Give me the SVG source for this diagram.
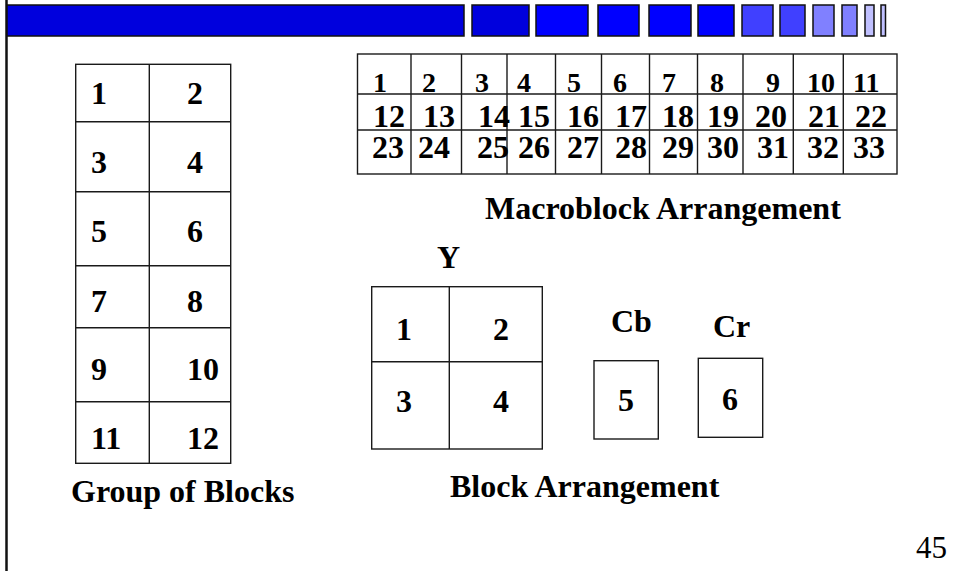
<svg xmlns="http://www.w3.org/2000/svg" width="957" height="571" viewBox="0 0 957 571">
<style>
.t{font-family:"Liberation Serif","Times New Roman",serif;font-weight:bold;font-size:32px;fill:#000}
.s{font-family:"Liberation Serif","Times New Roman",serif;font-weight:bold;font-size:28px;fill:#000}
.n{font-family:"Liberation Serif","Times New Roman",serif;font-size:31px;fill:#000}
.ln{stroke:#1a1a1a;stroke-width:1.4;fill:none}
.bar{stroke:#111;stroke-width:1.5}
</style>
<rect width="957" height="571" fill="#fff"/>
<g id="header">
<line x1="6.5" y1="0" x2="6.5" y2="571" stroke="#111" stroke-width="2.5"/>
<rect class="bar" x="7" y="5" width="457" height="31" fill="#0000dd"/>
<rect class="bar" x="472" y="5" width="57" height="31" fill="#0000dd"/>
<rect class="bar" x="536" y="5" width="52" height="31" fill="#0000ff"/>
<rect class="bar" x="598" y="5" width="41" height="31" fill="#0000ff"/>
<rect class="bar" x="649" y="5" width="42" height="31" fill="#0000ff"/>
<rect class="bar" x="698" y="5" width="36" height="31" fill="#0000ff"/>
<rect class="bar" x="742" y="5" width="31" height="31" fill="#4040ff"/>
<rect class="bar" x="780" y="5" width="25" height="31" fill="#4040ff"/>
<rect class="bar" x="813" y="5" width="21" height="31" fill="#8080ff"/>
<rect class="bar" x="842" y="5" width="15" height="31" fill="#8080ff"/>
<rect class="bar" x="865" y="5" width="9" height="31" fill="#c0c0ff"/>
<rect class="bar" x="881" y="5" width="4.5" height="31" fill="#c0c0ff"/>
</g>
<g id="group-of-blocks">
<rect class="ln" x="75.7" y="64.3" width="155" height="399"/>
<line class="ln" x1="149.3" y1="64.3" x2="149.3" y2="463.3"/>
<line class="ln" x1="75.7" y1="121.7" x2="230.7" y2="121.7"/>
<line class="ln" x1="75.7" y1="191.7" x2="230.7" y2="191.7"/>
<line class="ln" x1="75.7" y1="265.7" x2="230.7" y2="265.7"/>
<line class="ln" x1="75.7" y1="327.7" x2="230.7" y2="327.7"/>
<line class="ln" x1="75.7" y1="401.7" x2="230.7" y2="401.7"/>
<text class="t" x="91" y="104">1</text><text class="t" x="187" y="104">2</text>
<text class="t" x="91" y="173">3</text><text class="t" x="187" y="173">4</text>
<text class="t" x="91" y="242">5</text><text class="t" x="187" y="242">6</text>
<text class="t" x="91" y="312">7</text><text class="t" x="187" y="312">8</text>
<text class="t" x="91" y="380">9</text><text class="t" x="187" y="380">10</text>
<text class="t" x="91" y="449">11</text><text class="t" x="187" y="449">12</text>
<text class="t" x="71" y="502">Group of Blocks</text>
</g>
<g id="macroblock-arrangement">
<rect class="ln" x="357.5" y="54" width="539.5" height="120"/>
<line class="ln" x1="357.5" y1="94" x2="897" y2="94"/>
<line class="ln" x1="357.5" y1="130" x2="897" y2="130"/>
<line class="ln" x1="411" y1="54" x2="411" y2="174"/>
<line class="ln" x1="461.5" y1="54" x2="461.5" y2="174"/>
<line class="ln" x1="507" y1="54" x2="507" y2="174"/>
<line class="ln" x1="555.5" y1="54" x2="555.5" y2="174"/>
<line class="ln" x1="601.5" y1="54" x2="601.5" y2="174"/>
<line class="ln" x1="649.5" y1="54" x2="649.5" y2="174"/>
<line class="ln" x1="697.5" y1="54" x2="697.5" y2="174"/>
<line class="ln" x1="743" y1="54" x2="743" y2="174"/>
<line class="ln" x1="793.3" y1="54" x2="793.3" y2="174"/>
<line class="ln" x1="843.3" y1="54" x2="843.3" y2="174"/>
<text class="s" x="373" y="92">1</text><text class="s" x="422" y="92">2</text><text class="s" x="475" y="92">3</text><text class="s" x="517" y="92">4</text><text class="s" x="567" y="92">5</text><text class="s" x="613" y="92">6</text><text class="s" x="662" y="92">7</text><text class="s" x="710" y="92">8</text><text class="s" x="766" y="92">9</text><text class="s" x="807" y="92">10</text><text class="s" x="853" y="92">11</text>
<text class="t" x="373" y="127">12</text><text class="t" x="423" y="127">13</text><text class="t" x="478" y="127">14</text><text class="t" x="518" y="127">15</text><text class="t" x="567" y="127">16</text><text class="t" x="615" y="127">17</text><text class="t" x="662" y="127">18</text><text class="t" x="707" y="127">19</text><text class="t" x="755" y="127">20</text><text class="t" x="808" y="127">21</text><text class="t" x="855" y="127">22</text>
<text class="t" x="372" y="158">23</text><text class="t" x="418" y="158">24</text><text class="t" x="477" y="158">25</text><text class="t" x="518" y="158">26</text><text class="t" x="567" y="158">27</text><text class="t" x="615" y="158">28</text><text class="t" x="662" y="158">29</text><text class="t" x="707" y="158">30</text><text class="t" x="757" y="158">31</text><text class="t" x="807" y="158">32</text><text class="t" x="853" y="158">33</text>
<text class="t" x="485" y="219">Macroblock Arrangement</text>
</g>
<g id="block-y">
<text class="t" x="437" y="268">Y</text>
<rect class="ln" x="371.7" y="286.7" width="170.6" height="162.3"/>
<line class="ln" x1="449.3" y1="286.7" x2="449.3" y2="449"/>
<line class="ln" x1="371.7" y1="361.7" x2="542.3" y2="361.7"/>
<text class="t" x="396" y="340">1</text><text class="t" x="493" y="340">2</text>
<text class="t" x="396" y="412">3</text><text class="t" x="493" y="412">4</text>
</g>
<g id="block-cb">
<text class="t" x="611" y="332">Cb</text>
<rect class="ln" x="594" y="360.7" width="64.3" height="78.3"/>
<text class="t" x="618" y="411">5</text>
</g>
<g id="block-cr">
<text class="t" x="713" y="337">Cr</text>
<rect class="ln" x="698.3" y="358.3" width="64.4" height="79"/>
<text class="t" x="722" y="410">6</text>
</g>
<text class="t" x="450" y="497">Block Arrangement</text>
<text class="n" x="916" y="558">45</text>
</svg>
